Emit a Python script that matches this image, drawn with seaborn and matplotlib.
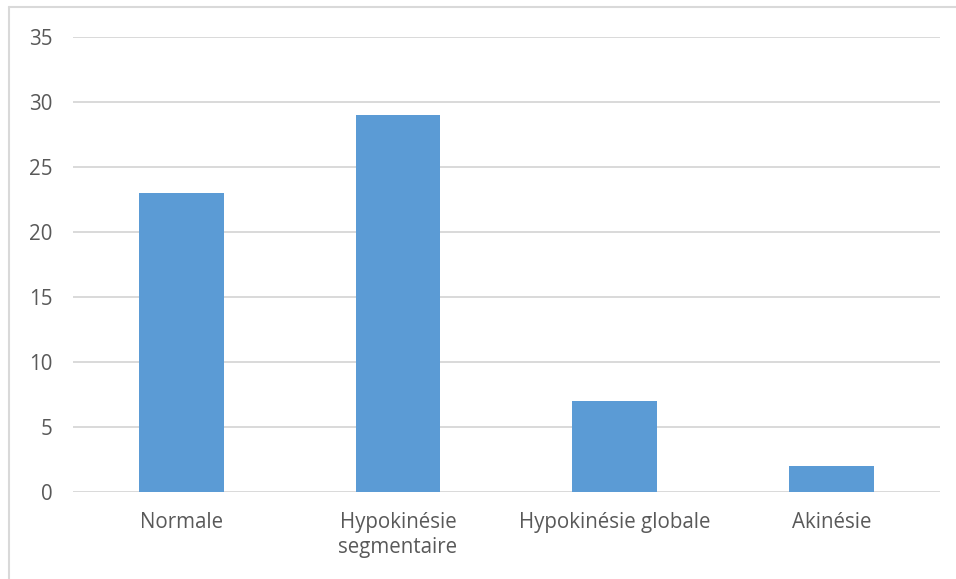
import matplotlib
matplotlib.use("Agg")
import matplotlib.pyplot as plt
from matplotlib.lines import Line2D
import seaborn as sns
import pandas as pd

categories = ["Normale", "Hypokinésie\nsegmentaire", "Hypokinésie globale", "Akinésie"]
values = [23, 29, 7, 2]
yticks = [0, 5, 10, 15, 20, 25, 30, 35]

sns.set_theme(style="white")
plt.rcParams["font.family"] = ["Open Sans", "DejaVu Sans"]

df = pd.DataFrame({"categorie": categories, "valeur": values})

fig = plt.figure(figsize=(9.56, 5.79), dpi=100)
ax = fig.add_axes([0.0764, 0.150, 0.9066, 0.786])

sns.barplot(data=df, x="categorie", y="valeur", color="#5B9BD5",
            saturation=1, width=0.39, ax=ax, zorder=3, linewidth=0)

ax.set_ylim(0, 35)
ax.set_xlim(-0.5, len(categories) - 0.5)
ax.set_yticks(yticks)
ax.yaxis.grid(True, color="#D9D9D9", linewidth=1.4, zorder=0)
ax.set_axisbelow(True)
for s in ax.spines.values():
    s.set_visible(False)
ax.set_xlabel("")
ax.set_ylabel("")
ax.tick_params(axis="both", length=0, labelsize=14.8, labelcolor="#595959")
ax.tick_params(axis="y", pad=15)
ax.tick_params(axis="x", pad=14)
for lbl in ax.get_xticklabels():
    lbl.set_linespacing(1.3)

# light frame along the top and left edges of the figure
fig.add_artist(Line2D([9 / 956, 1.0], [1 - 7 / 579, 1 - 7 / 579],
                      transform=fig.transFigure, color="#D9D9D9", linewidth=1.5))
fig.add_artist(Line2D([9 / 956, 9 / 956], [0.0, 1 - 7 / 579],
                      transform=fig.transFigure, color="#D9D9D9", linewidth=1.5))

fig.savefig("out.png", dpi=100, facecolor="white")
